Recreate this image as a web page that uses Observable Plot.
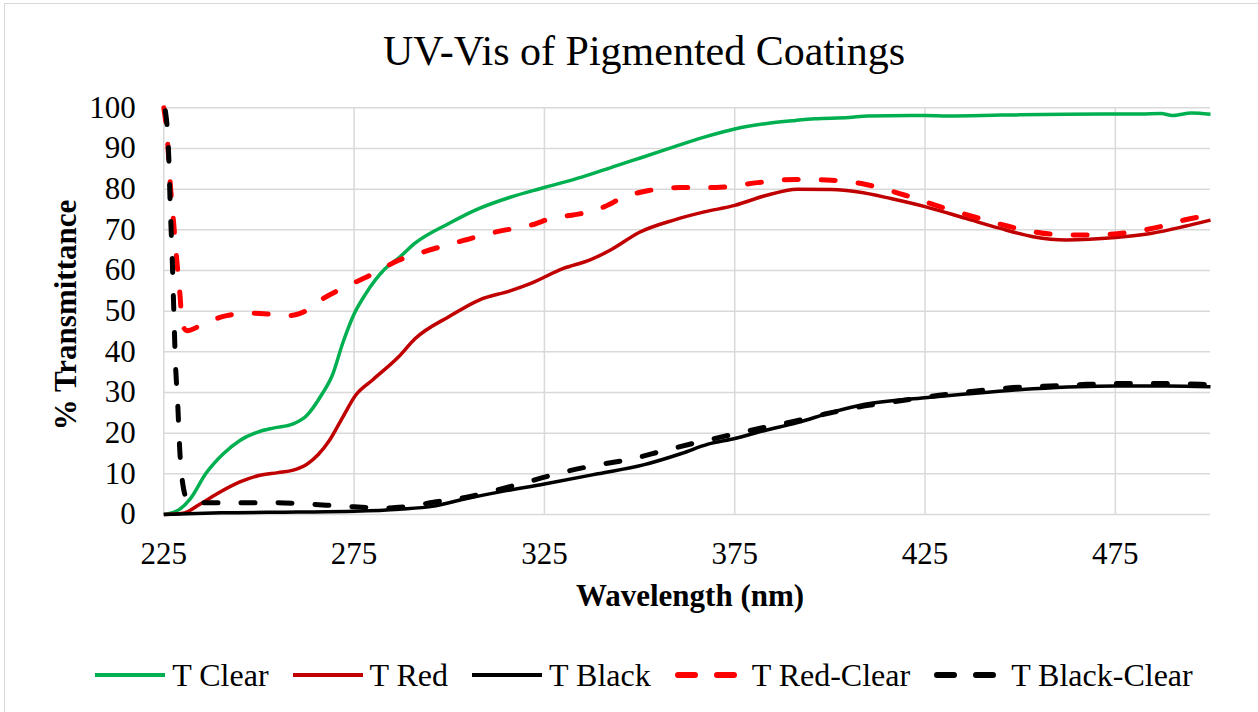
<!DOCTYPE html>
<html>
<head>
<meta charset="utf-8">
<script src="https://cdn.jsdelivr.net/npm/d3@7"></script>
<script src="https://cdn.jsdelivr.net/npm/@observablehq/plot@0.6"></script>
<style>
  html, body { margin: 0; padding: 0; background: #fff; }
  body { width: 1258px; height: 712px; position: relative; overflow: hidden;
         font-family: "Liberation Serif", "Times New Roman", serif; color: #000; }
  #frame { position: absolute; left: 4px; top: 3px; width: 1280px; height: 740px;
           border: 1.5px solid #d9d9d9; box-sizing: border-box; }
  #title { position: absolute; left: 4px; width: 1280px; top: 30px; height: 42px;
           line-height: 42px; font-size: 42px; text-align: center; white-space: nowrap; }
  #chart { position: absolute; left: 0; top: 80px; }
  #xtitle { position: absolute; left: 490px; width: 400px; top: 580px; height: 32px;
            line-height: 32px; font-size: 31px; font-weight: bold; text-align: center; white-space: nowrap; }
  #ytitle { position: absolute; left: -134px; top: 299px; width: 400px; height: 32px;
            line-height: 32px; font-size: 31px; font-weight: bold; text-align: center;
            transform: rotate(-90deg); white-space: nowrap; }
  #legend { position: absolute; left: 4px; width: 1280px; top: 655px; height: 40px;
            display: flex; justify-content: center; align-items: center; gap: 24px; }
  .item { display: flex; align-items: center; gap: 7px; font-size: 32px; line-height: 40px; white-space: nowrap; }
</style>
</head>
<body>
<div id="frame"></div>
<div id="title"></div>
<div id="chart"></div>
<div id="xtitle"></div>
<div id="ytitle"></div>
<div id="legend"></div>
<script>
// ---- data (wavelength nm, % transmittance) ----
const titleText = "UV-Vis of Pigmented Coatings";
const xTitle = "Wavelength (nm)";
const yTitle = "% Transmittance";
const xTicks = [225, 275, 325, 375, 425, 475];
const yTicks = [0, 10, 20, 30, 40, 50, 60, 70, 80, 90, 100];
const seriesNames = ["T Clear", "T Red", "T Black", "T Red-Clear", "T Black-Clear"];

const tClear = [[225,0],[229,1.2],[232,3.9],[236,10],[240.5,14.8],[245,18.2],[249.5,20.2],[254,21.3],[259,22.3],[262.5,24.3],[266.5,29.5],[269.3,34.3],[272,42.1],[275,49.3],[278,54.2],[283,60.3],[287,63.3],[291,66.7],[300,71.6],[307,74.9],[316,78],[325,80.4],[335,83],[344,85.8],[351,87.9],[359,90.4],[367,92.8],[375,94.8],[383,96.1],[391,96.9],[396,97.3],[405,97.6],[410,98],[425,98.1],[431,98],[445,98.2],[462,98.4],[482,98.5],[487,98.6],[490,98.1],[495,98.7],[500,98.4]];

const tRed = [[225,0],[230,0.3],[234.6,2.6],[239,5.1],[245,8],[250,9.6],[255,10.3],[259,10.9],[262.5,12.3],[268.5,18.2],[272,23.9],[275.4,29.3],[280,33.2],[286.7,38.8],[291,43.2],[300,48.7],[308,52.8],[316,55],[321.6,56.9],[330,60.5],[337,62.6],[342.5,65.1],[350,69.4],[359,72.4],[367,74.4],[375,76],[382.7,78.3],[391.5,80],[400.4,79.9],[407.5,79.3],[416,77.7],[425,75.7],[435.7,72.8],[444.5,70.4],[453.4,68.3],[462,67.5],[475,68.1],[484.3,69.1],[493,70.8],[500,72.4]];

const tBlack = [[225,0],[240,0.4],[260,0.6],[275,0.8],[287,1.3],[295.5,2],[304,3.8],[313,5.5],[325,7.5],[339,10],[351,12.2],[361,15],[368,17.3],[375,18.7],[382.7,20.6],[391.5,22.6],[400.4,25.1],[409.2,27.1],[425,28.7],[435.7,29.6],[453.4,30.9],[475,31.6],[488.7,31.6],[500,31.4]];

const tRedClear = [[225,100],[225.9,92.8],[226.7,81.3],[227.6,71.5],[228.5,61.6],[229.3,53.4],[229.8,47],[231,45.2],[236.3,47.3],[241.5,48.9],[247.6,49.5],[253.7,49.2],[258,48.9],[262.4,50.1],[266.7,53],[272.8,56],[279.8,59.1],[286.7,62.5],[293.7,64.7],[304.2,67.5],[312.9,69.6],[321.6,71.2],[326.8,72.8],[334.7,74],[340.8,75.7],[346,78.1],[352.1,79.6],[360.8,80.4],[370,80.4],[381,81.6],[391,82.4],[400.4,82.2],[409.2,81.2],[419.8,78.5],[429.5,75.5],[439.3,72.8],[449,70.4],[458.7,68.9],[467.5,68.7],[478.1,69.3],[486.9,70.8],[493.1,72.4],[500,73.6]];

const tBlackClear = [[225.4,99.3],[226.3,87.9],[226.7,75.6],[227.2,63.3],[227.6,51],[228,38.7],[228.7,26.4],[229.2,15.7],[229.8,8.8],[231.1,3.9],[234.6,2.9],[245,2.9],[253.7,2.9],[262.4,2.6],[272.8,2],[283.3,1.6],[287,1.8],[297.2,3.2],[304.2,4.2],[312.9,6.1],[321.6,8.3],[330.3,10.5],[339,12.2],[347.7,13.6],[356.4,15.7],[365.1,17.7],[375,19.8],[382.6,21.4],[391,23],[398.7,24.7],[409.2,26.7],[418.1,27.9],[428.7,29.3],[438.4,30.4],[448.1,31.2],[457.8,31.6],[467.5,32],[478.1,32.2],[487.8,32.2],[497.5,32],[500,31.8]];

// ---- styles ----
const styles = [
  {data: tClear, stroke: "#00B050", width: 3.5, dash: null},
  {data: tRed, stroke: "#C00000", width: 3.5, dash: null},
  {data: tBlack, stroke: "#000000", width: 3.5, dash: null},
  {data: tRedClear, stroke: "#FF0000", width: 5, dash: "14,23"},
  {data: tBlackClear, stroke: "#000000", width: 5, dash: "14,23"}
];

document.getElementById("title").textContent = titleText;
document.getElementById("xtitle").textContent = xTitle;
document.getElementById("ytitle").textContent = yTitle;

const grid = {stroke: "#d9d9d9", strokeOpacity: 1, strokeWidth: 1.5};

const chart = Plot.plot({
  width: 1258,
  height: 550,
  marginTop: 27.3,
  marginBottom: 116,
  marginLeft: 163.3,
  marginRight: 48,
  style: {fontFamily: '"Liberation Serif", "Times New Roman", serif', fontSize: "31px", color: "#000", background: "transparent", overflow: "visible"},
  x: {domain: [225, 500], label: null},
  y: {domain: [0, 100], label: null},
  marks: [
    Plot.gridY(yTicks, grid),
    Plot.gridX(xTicks, grid),
    Plot.axisX(xTicks, {tickSize: 0, tickPadding: 27, label: null, tickFormat: d => String(d)}),
    Plot.axisY(yTicks, {tickSize: 0, tickPadding: 28, label: null, tickFormat: d => String(d)}),
    ...styles.map(s => Plot.line(s.data, {
      x: d => d[0], y: d => d[1], stroke: s.stroke, strokeWidth: s.width,
      strokeDasharray: s.dash, strokeLinecap: s.dash ? "round" : "butt",
      strokeLinejoin: "round", curve: "monotone-x"
    }))
  ]
});
document.getElementById("chart").appendChild(chart);

// ---- legend ----
const legend = document.getElementById("legend");
styles.forEach((s, i) => {
  const item = document.createElement("div");
  item.className = "item";
  const ns = "http://www.w3.org/2000/svg";
  const sw = document.createElementNS(ns, "svg");
  sw.setAttribute("width", 70);
  sw.setAttribute("height", 40);
  const ln = document.createElementNS(ns, "line");
  ln.setAttribute("x1", s.dash ? 3 : 0);
  ln.setAttribute("x2", 70);
  ln.setAttribute("y1", 20);
  ln.setAttribute("y2", 20);
  ln.setAttribute("stroke", s.stroke);
  ln.setAttribute("stroke-width", s.dash ? 6 : 4);
  if (s.dash) {
    ln.setAttribute("stroke-dasharray", "17,22");
    ln.setAttribute("stroke-linecap", "round");
  }
  sw.appendChild(ln);
  item.appendChild(sw);
  const t = document.createElement("span");
  t.textContent = seriesNames[i];
  item.appendChild(t);
  legend.appendChild(item);
});
</script>
</body>
</html>
